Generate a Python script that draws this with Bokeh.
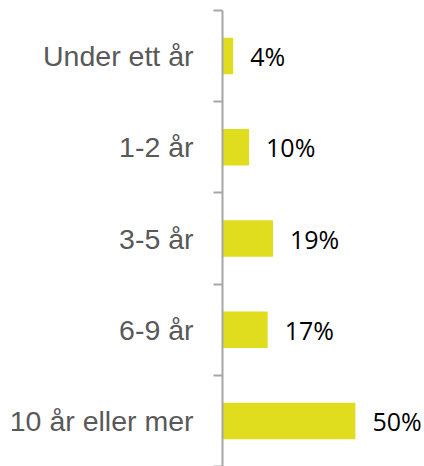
from bokeh.plotting import figure
from bokeh.models import FactorRange, Range1d, LinearAxis, FixedTicker, ColumnDataSource
from bokeh.embed import file_html
from bokeh.resources import INLINE
from bokeh.core.properties import value

categories = ["Under ett år", "1-2 år", "3-5 år", "6-9 år", "10 år eller mer"]
shares = [4, 10, 19, 17, 50]
share_labels = ["4%", "10%", "19%", "17%", "50%"]

src = ColumnDataSource(dict(cat=categories, val=shares, lab=share_labels))

p = figure(width=424, height=466, output_backend="svg", toolbar_location=None,
           y_range=FactorRange(factors=categories[::-1]),
           x_range=Range1d(0, 76),
           x_axis_type=None, y_axis_type=None,
           min_border_left=222, min_border_top=10, min_border_bottom=0, min_border_right=0)
p.outline_line_color = None
p.grid.visible = False
p.background_fill_color = "white"
p.border_fill_color = "white"

p.hbar(y="cat", right="val", left=0, height=0.4, color="#E0DC1E", line_color=None, source=src)
p.text(x="val", y="cat", text="lab", source=src, x_offset=17,
       text_font=value("Open Sans"), text_font_size="25px", text_color="#000000",
       text_baseline="middle", text_align="left")

n = len(categories)
centers = [i + 0.5 for i in range(n)]
bounds = [float(i) for i in range(n + 1)]
axis = LinearAxis(ticker=FixedTicker(ticks=centers, minor_ticks=bounds))
axis.major_label_overrides = {c: lab for c, lab in zip(centers, categories[::-1])}
axis.major_tick_line_color = None
axis.major_tick_out = 0
axis.major_tick_in = 0
axis.minor_tick_out = 9
axis.minor_tick_in = 0
axis.minor_tick_line_color = "#a6a6a6"
axis.minor_tick_line_width = 2
axis.axis_line_color = "#a6a6a6"
axis.axis_line_width = 2
axis.major_label_standoff = 20
axis.major_label_text_font = "Liberation Sans"
axis.major_label_text_font_size = "28.5px"
axis.major_label_text_color = "#595959"
p.add_layout(axis, "left")

open("out.html", "w").write(file_html(p, INLINE))
